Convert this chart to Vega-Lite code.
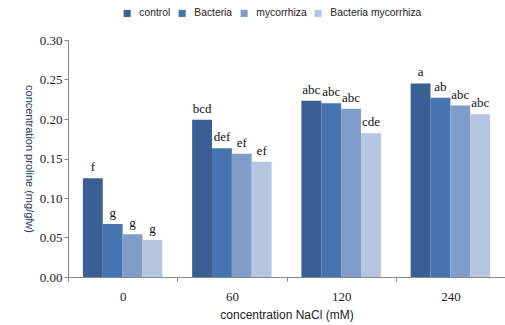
{
  "$schema": "https://vega.github.io/schema/vega-lite/v6.json",
  "width": 437,
  "height": 237,
  "autosize": "none",
  "padding": {"left": 68, "top": 40, "right": 0, "bottom": 48},
  "background": "white",
  "data": {
    "values": [
      {"conc": "0", "treatment": "control", "value": 0.125, "label": "f"},
      {"conc": "0", "treatment": "Bacteria", "value": 0.067, "label": "g"},
      {"conc": "0", "treatment": "mycorrhiza", "value": 0.054, "label": "g"},
      {"conc": "0", "treatment": "Bacteria mycorrhiza", "value": 0.047, "label": "g"},
      {"conc": "60", "treatment": "control", "value": 0.199, "label": "bcd"},
      {"conc": "60", "treatment": "Bacteria", "value": 0.163, "label": "def"},
      {"conc": "60", "treatment": "mycorrhiza", "value": 0.156, "label": "ef"},
      {"conc": "60", "treatment": "Bacteria mycorrhiza", "value": 0.146, "label": "ef"},
      {"conc": "120", "treatment": "control", "value": 0.223, "label": "abc"},
      {"conc": "120", "treatment": "Bacteria", "value": 0.220, "label": "abc"},
      {"conc": "120", "treatment": "mycorrhiza", "value": 0.213, "label": "abc"},
      {"conc": "120", "treatment": "Bacteria mycorrhiza", "value": 0.182, "label": "cde"},
      {"conc": "240", "treatment": "control", "value": 0.245, "label": "a"},
      {"conc": "240", "treatment": "Bacteria", "value": 0.227, "label": "ab"},
      {"conc": "240", "treatment": "mycorrhiza", "value": 0.217, "label": "abc"},
      {"conc": "240", "treatment": "Bacteria mycorrhiza", "value": 0.206, "label": "abc"}
    ]
  },
  "encoding": {
    "x": {
      "field": "conc", "type": "nominal", "sort": ["0", "60", "120", "240"],
      "scale": {"paddingInner": 0, "paddingOuter": 0},
      "axis": {
        "title": "concentration NaCl (mM)",
        "titleFont": "Liberation Sans", "titleFontWeight": "normal", "titleFontSize": 12, "titleColor": "#222",
        "titlePadding": 6,
        "labelAngle": 0, "labelFont": "Liberation Serif", "labelFontSize": 13, "labelColor": "#222",
        "labelPadding": 9,
        "tickBand": "extent", "tickSize": 4, "tickColor": "#888", "domainColor": "#888"
      }
    },
    "xOffset": {
      "field": "treatment", "type": "nominal",
      "sort": ["control", "Bacteria", "mycorrhiza", "Bacteria mycorrhiza"],
      "scale": {"paddingInner": 0, "paddingOuter": 0.75}
    },
    "y": {
      "field": "value", "type": "quantitative",
      "scale": {"domain": [0, 0.3], "nice": false},
      "axis": {
        "title": "concentration  proline  (mg/gfw)",
        "titleAngle": 90, "titleFont": "Liberation Sans", "titleFontWeight": "normal", "titleFontSize": 11,
        "titleColor": "#2a3a6a", "titlePadding": 16,
        "values": [0, 0.05, 0.1, 0.15, 0.2, 0.25, 0.3], "format": ".2f",
        "labelFont": "Liberation Serif", "labelFontSize": 13, "labelColor": "#222",
        "grid": false, "tickSize": 4, "tickColor": "#888", "domainColor": "#888"
      }
    }
  },
  "layer": [
    {
      "mark": {"type": "bar"},
      "encoding": {
        "color": {
          "field": "treatment", "type": "nominal",
          "sort": ["control", "Bacteria", "mycorrhiza", "Bacteria mycorrhiza"],
          "scale": {
            "domain": ["control", "Bacteria", "mycorrhiza", "Bacteria mycorrhiza"],
            "range": ["#3a5f94", "#4674b1", "#7f9cca", "#b5c5e2"]
          },
          "legend": {
            "title": null, "orient": "none", "direction": "horizontal",
            "legendX": 54, "legendY": -32,
            "symbolType": "square", "symbolSize": 50, "symbolStrokeWidth": 0,
            "labelFont": "Liberation Sans", "labelFontSize": 10.3, "labelColor": "#222",
            "labelOffset": 7, "columnPadding": 6
          }
        }
      }
    },
    {
      "mark": {"type": "text", "baseline": "bottom", "dy": -4, "font": "Liberation Serif", "fontSize": 13, "color": "#111"},
      "encoding": {"text": {"field": "label"}}
    }
  ],
  "config": {"view": {"stroke": null}}
}
